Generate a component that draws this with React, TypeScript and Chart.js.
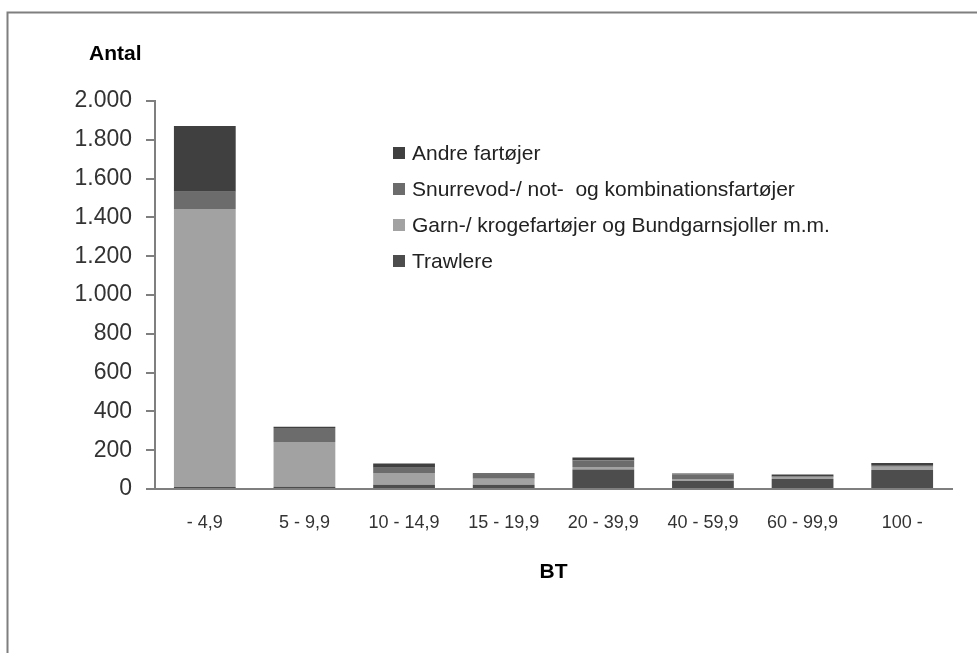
import React, { useEffect, useRef } from "react";
import { Chart, registerables } from "chart.js";

Chart.register(...registerables);

const categories = ["- 4,9", "5 - 9,9", "10 - 14,9", "15 - 19,9", "20 - 39,9", "40 - 59,9", "60 - 99,9", "100 -"];
const trawlere = [10, 12, 22, 22, 100, 41, 52, 98];
const garn = [1433, 230, 60, 31, 14, 10, 10, 17];
const snurrevod = [89, 72, 27, 21, 33, 24, 3, 9];
const andre = [339, 7, 23, 7, 15, 5, 10, 10];

const seriesNames = [
  "Trawlere",
  "Garn-/ krogefartøjer og Bundgarnsjoller m.m.",
  "Snurrevod-/ not-  og kombinationsfartøjer",
  "Andre fartøjer",
];
const seriesColors = ["#4d4d4d", "#a2a2a2", "#6c6c6c", "#404040"];
const yTicks = [0, 200, 400, 600, 800, 1000, 1200, 1400, 1600, 1800, 2000];

const FONT = "'Liberation Sans', Arial, sans-serif";

const decorPlugin = {
  id: "decor",
  afterDraw(chart: any) {
    const ctx = chart.ctx;
    const area = chart.chartArea;
    ctx.save();
    // frame
    ctx.strokeStyle = "#7f7f7f";
    ctx.lineWidth = 2;
    ctx.beginPath();
    ctx.moveTo(7.5, 653);
    ctx.lineTo(7.5, 12.5);
    ctx.lineTo(977, 12.5);
    ctx.stroke();
    // titles
    ctx.fillStyle = "#000";
    ctx.font = `bold 21px ${FONT}`;
    ctx.textBaseline = "middle";
    ctx.textAlign = "left";
    ctx.fillText("Antal", 89, 54);
    ctx.textAlign = "center";
    ctx.fillText("BT", (area.left + area.right) / 2, 572);
    // legend (reverse order)
    ctx.font = `21px ${FONT}`;
    ctx.textAlign = "left";
    const ds = chart.data.datasets;
    for (let i = 0; i < ds.length; i++) {
      const d = ds[ds.length - 1 - i];
      const cy = 153 + i * 36;
      ctx.fillStyle = d.backgroundColor;
      ctx.fillRect(393, cy - 6, 12, 12);
      ctx.fillStyle = "#222";
      ctx.fillText(d.label, 412, cy + 1);
    }
    ctx.restore();
  },
};

export default function App() {
  const ref = useRef<HTMLCanvasElement>(null);
  useEffect(() => {
    if (!ref.current) return;
    const values = [trawlere, garn, snurrevod, andre];
    const chart = new Chart(ref.current, {
      type: "bar",
      data: {
        labels: categories,
        datasets: values.map((v, i) => ({
          label: seriesNames[i],
          data: v,
          backgroundColor: seriesColors[i],
          borderWidth: 0,
          categoryPercentage: 1,
          barPercentage: 0.62,
        })),
      },
      options: {
        responsive: false,
        animation: false,
        layout: { padding: { top: 101, right: 25, left: 0, bottom: 0 } },
        plugins: { legend: { display: false }, tooltip: { enabled: false } },
        scales: {
          x: {
            stacked: true,
            grid: { display: false, drawTicks: false },
            border: { color: "#7f7f7f", width: 2 },
            ticks: { color: "#333", font: { family: FONT, size: 18 }, padding: 23, maxRotation: 0 },
            afterFit: (s: any) => { s.height = 164; },
          },
          y: {
            stacked: true,
            min: 0,
            max: 2000,
            grid: { display: true, drawOnChartArea: false, drawTicks: true, tickLength: 9, color: "#7f7f7f", lineWidth: 2 },
            border: { color: "#7f7f7f", width: 2 },
            afterBuildTicks: (s: any) => { s.ticks = yTicks.map((v) => ({ value: v })); },
            ticks: {
              color: "#333",
              font: { family: FONT, size: 23 },
              padding: 14,
              callback: (v: any) => Number(v).toLocaleString("da-DK"),
            },
            afterFit: (s: any) => { s.width = 155; },
          },
        },
      },
      plugins: [decorPlugin],
    });
    return () => chart.destroy();
  }, []);
  return (
    <div style={{ position: "fixed", left: 0, top: 0, width: 977, height: 653, background: "#fff" }}>
      <canvas ref={ref} width={977} height={653} style={{ display: "block" }} />
    </div>
  );
}
